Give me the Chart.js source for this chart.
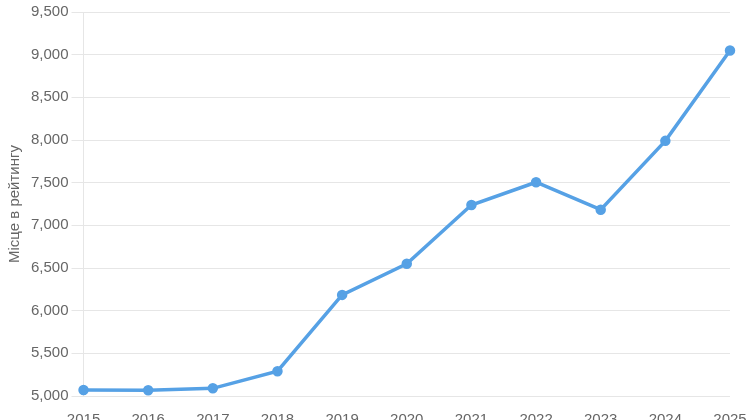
<!DOCTYPE html>
<html>
<head>
<meta charset="utf-8">
<script src="https://cdn.jsdelivr.net/npm/chart.js@4"></script>
<style>
    html, body { margin: 0; padding: 0; background: #fff; overflow: hidden; }
    #wrap { position: relative; width: 750px; height: 442px; }
</style>
</head>
<body>
<div id="wrap"><canvas id="rankChart"></canvas></div>
<script>
// Дані графіка
const years = ['2015', '2016', '2017', '2018', '2019', '2020', '2021', '2022', '2023', '2024', '2025'];
const rankValues = [5070, 5068, 5090, 5290, 6185, 6550, 7238, 7505, 7183, 7990, 9048];
const yTicks = [5000, 5500, 6000, 6500, 7000, 7500, 8000, 8500, 9000, 9500];

const fonte = { family: 'Liberation Sans, Arial, sans-serif', size: 15 };

const ctx = document.getElementById('rankChart').getContext('2d');
const chart = new Chart(ctx, {
    type: 'line',
    data: {
        labels: years,
        datasets: [{
            label: 'Місце в рейтингу',
            data: rankValues,
            borderColor: '#56a1e5',
            backgroundColor: '#56a1e5',
            borderWidth: 3.5,
            pointRadius: 3.5,
            pointHoverRadius: 5,
            tension: 0,
            fill: false
        }]
    },
    options: {
        responsive: true,
        maintainAspectRatio: false,
        animation: false,
        layout: { padding: { left: 6, top: 9, right: 20, bottom: 10 } },
        plugins: {
            legend: { display: false },
            tooltip: { enabled: false }
        },
        scales: {
            x: {
                grid: { display: false, drawTicks: true, tickLength: 12 },
                border: { display: false },
                ticks: { color: '#666', font: fonte, maxRotation: 0 }
            },
            y: {
                min: yTicks[0],
                max: yTicks[yTicks.length - 1],
                afterBuildTicks: axis => { axis.ticks = yTicks.map(v => ({ value: v })); },
                grid: { color: '#e6e6e6', tickLength: 12 },
                border: { display: true, color: '#e6e6e6' },
                ticks: {
                    color: '#666',
                    font: fonte,
                    callback: v => v.toLocaleString('en-US')
                },
                title: {
                    display: true,
                    text: 'Місце в рейтингу',
                    color: '#666',
                    font: fonte,
                    padding: { top: 0, bottom: 4 }
                }
            }
        }
    }
});
</script>
</body>
</html>
